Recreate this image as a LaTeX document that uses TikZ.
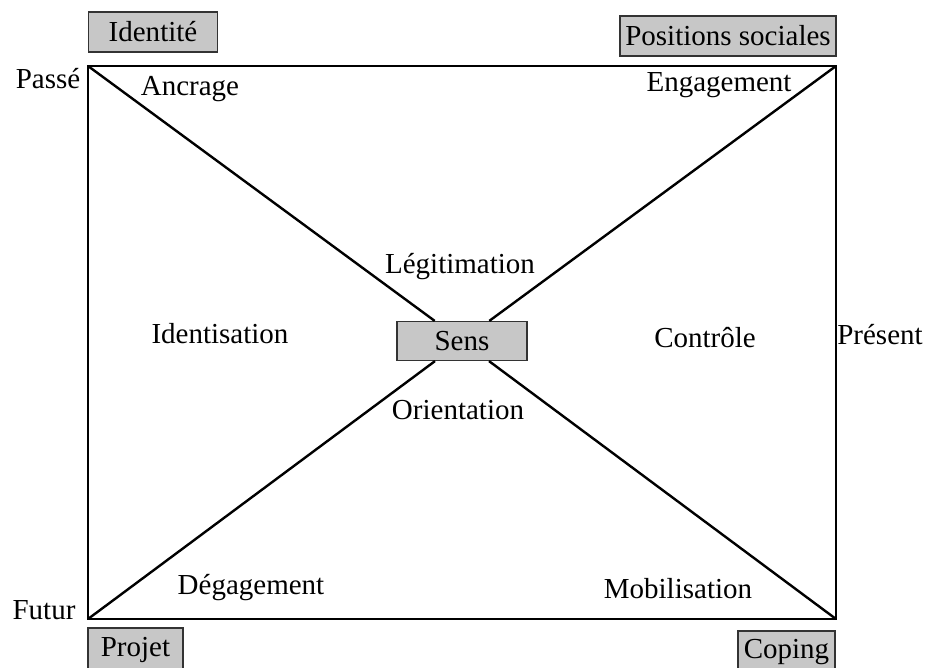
\documentclass[tikz,border=0pt]{standalone}
\usepackage{fontspec}
\setmainfont{Liberation Serif}
\begin{document}
\begin{tikzpicture}[x=0.5pt,y=-0.5pt,
  lab/.style={font=\fontsize{14.5}{16}\selectfont, inner sep=0pt},
  gbox/.style={draw=black!80, line width=0.6pt, fill=black!22, font=\fontsize{14.5}{16}\selectfont, inner sep=0pt, minimum height=20pt},
  frame/.style={line width=1pt},
  diag/.style={line width=1.2pt}]
\useasboundingbox (0,0) rectangle (930,668);
\coordinate (TL) at (88,66);
\coordinate (TR) at (836,66);
\coordinate (BR) at (836,619);
\coordinate (BL) at (88,619);
\draw[frame] (TL) -- (TR) -- (BR) -- (BL) -- cycle;
\node[gbox, minimum width=65pt, minimum height=19.5pt] (sens) at (462,341) {Sens};
\draw[diag] (TL) -- (sens);
\draw[diag] (TR) -- (sens);
\draw[diag] (BL) -- (sens);
\draw[diag] (BR) -- (sens);
\node[gbox, minimum width=64.5pt] (identite) at (153,32) {Identité};
\node[gbox, minimum width=108pt] (positions) at (728,36) {Positions sociales};
\node[gbox, minimum width=47.5pt, minimum height=22pt] (projet) at (135.5,650) {\raisebox{2pt}{Projet}};
\node[gbox, minimum width=48.5pt, minimum height=21pt] (coping) at (786.5,652) {\raisebox{2pt}{Coping}};
\node[lab] (passe) at (48,79) {Passé};
\node[lab] (futur) at (44,610) {Futur};
\node[lab] (present) at (880,335) {Présent};
\node[lab] (ancrage) at (190,89) {Ancrage};
\node[lab] (engagement) at (719,85) {Engagement};
\node[lab] (legitimation) at (460,267) {Légitimation};
\node[lab] (identisation) at (220,334) {Identisation};
\node[lab] (controle) at (705,338) {Contrôle};
\node[lab] (orientation) at (458,410) {Orientation};
\node[lab] (degagement) at (251,588) {Dégagement};
\node[lab] (mobilisation) at (678,589) {Mobilisation};
\end{tikzpicture}
\end{document}
